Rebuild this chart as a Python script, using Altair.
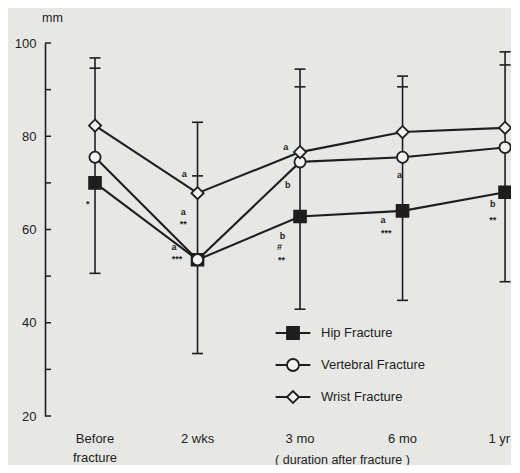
import altair as alt
import pandas as pd

# ---------------- data ----------------
times = ["Before\nfracture", "2 wks", "3 mo", "6 mo", "1 yr"]
time_pos = [0, 1, 2, 3, 4]
series_names = ["Hip Fracture", "Vertebral Fracture", "Wrist Fracture"]
hip = [70.0, 53.5, 62.8, 64.0, 68.0]
vertebral = [75.5, 53.5, 74.5, 75.5, 77.6]
wrist = [82.3, 67.8, 76.6, 80.9, 81.8]

err_top_outer = [96.8, 83.0, 94.4, 92.9, 98.1]
err_top_inner = [94.6, 71.5, 90.6, 90.6, 95.3]
err_bottom = [50.6, 33.4, 42.9, 44.8, 48.8]

note_x = [-0.07, 0.87, 0.86, 0.86, 0.77, 0.80, 1.86, 1.88, 1.83, 1.80, 1.82, 2.97, 2.81, 2.84, 3.88, 3.88]
note_y = [65.5, 72.0, 63.7, 61.2, 56.3, 53.6, 77.7, 69.6, 58.6, 56.2, 53.5, 71.7, 62.0, 59.2, 65.5, 62.0]
note_text = ["*", "a", "a", "**", "a", "***", "a", "b", "b", "#", "**", "a", "a", "***", "b", "**"]

y_ticks = [20, 30, 40, 50, 60, 70, 80, 90, 100]
y_labels = [20, 40, 60, 80, 100]

# ---------------- styling ----------------
INK = "#1e1e1e"
BG = "#e7e7e5"
MARK_FILL = "#f2f2f0"
FONT = "Liberation Sans"
W, H = 466, 373

long_df = pd.DataFrame({
    "series": [s for s in series_names for _ in time_pos],
    "t": time_pos * 3,
    "v": hip + vertebral + wrist,
})
err_df = pd.DataFrame({"t": time_pos, "top": err_top_outer, "inner": err_top_inner, "bottom": err_bottom})
note_df = pd.DataFrame({"x": note_x, "y": note_y, "text": note_text})
tick_df = pd.DataFrame({"v": y_ticks})
xlab_df = pd.DataFrame({"t": time_pos, "label": times})

xscale = alt.Scale(domain=[-0.488, 4.058], nice=False, zero=False)
yscale = alt.Scale(domain=[20, 100], nice=False, zero=False)

x_axis = alt.Axis(values=time_pos, labels=False, domain=False, ticks=False, grid=False,
                  title="( duration after  fracture )", titleX=297, titleY=43,
                  titleBaseline="middle", titleFontSize=12.5, titleFontWeight="normal",
                  titleColor=INK, titleFont=FONT)
y_axis = alt.Axis(values=y_labels, ticks=False, grid=False, domain=True, domainColor=INK,
                  domainWidth=1.6, labelPadding=9, labelFontSize=13, labelColor=INK, labelFont=FONT,
                  title="mm", titleAngle=0, titleX=7, titleY=-26, titleAlign="center",
                  titleBaseline="middle", titleFontSize=12.5, titleFontWeight="normal",
                  titleColor=INK, titleFont=FONT)

X = alt.X("t:Q", scale=xscale, axis=x_axis)
Y = alt.Y("v:Q", scale=yscale, axis=y_axis)

# minor/major ticks pointing inward
ticks = alt.Chart(tick_df).mark_rule(color=INK, strokeWidth=1.5).encode(
    y=alt.Y("v:Q", scale=yscale, axis=y_axis), x=alt.value(0), x2=alt.value(6))

# category labels under the plot, placed by the x scale
xlab_common = dict(baseline="top", lineBreak="\n", lineHeight=19, fontSize=13, font=FONT, color=INK)
xlabels_mid = alt.Chart(xlab_df).transform_filter(alt.datum.t < 4).mark_text(
    align="center", **xlab_common).encode(
    x=alt.X("t:Q", scale=xscale, axis=x_axis), y=alt.value(H + 17), text="label:N")
xlabels_end = alt.Chart(xlab_df).transform_filter(alt.datum.t >= 4).mark_text(
    align="right", dx=5, **xlab_common).encode(
    x=alt.X("t:Q", scale=xscale, axis=x_axis), y=alt.value(H + 17), text="label:N")

# error bars
err_rule = alt.Chart(err_df).mark_rule(color=INK, strokeWidth=1.6).encode(
    x=alt.X("t:Q", scale=xscale, axis=x_axis),
    y=alt.Y("bottom:Q", scale=yscale, axis=y_axis), y2="top:Q")
err_caps = alt.Chart(err_df).transform_fold(["top", "inner", "bottom"], as_=["k", "cap"]).mark_tick(
    orient="horizontal", size=11, thickness=1.6, color=INK, opacity=1).encode(
    x=alt.X("t:Q", scale=xscale, axis=x_axis),
    y=alt.Y("cap:Q", scale=yscale, axis=y_axis))

lines = alt.Chart(long_df).mark_line(color=INK, strokeWidth=2.1).encode(x=X, y=Y, detail="series:N")

shape_props = {
    "Hip Fracture": dict(shape="square", size=140, fill=INK),
    "Vertebral Fracture": dict(shape="circle", size=125, fill=MARK_FILL),
    "Wrist Fracture": dict(shape="diamond", size=150, fill=MARK_FILL),
}
marker_layers = []
for s in series_names:
    p = shape_props[s]
    marker_layers.append(
        alt.Chart(long_df).transform_filter(alt.datum.series == s).mark_point(
            shape=p["shape"], size=p["size"], filled=True, fill=p["fill"], stroke=INK,
            strokeWidth=1.8, opacity=1).encode(x=X, y=Y))

# legend (drawn by the library's legend from an empty layer)
legend_paths = [
    "M-2.9,0H2.9M-1,-1H1V1H-1Z",
    "M-2.9,0H-1M1,0H2.9M-1,0A1,1 0 1,1 1,0A1,1 0 1,1 -1,0Z",
    "M-2.9,0H-1M1,0H2.9M-1,0L0,-1L1,0L0,1Z",
]
leg = dict(title=None, orient="none", legendX=241, legendY=283, labelFontSize=13,
           labelFont=FONT, labelColor=INK, symbolSize=144, symbolStrokeWidth=1.8,
           labelOffset=21, rowPadding=12, padding=0, symbolOpacity=1)
legend_layer = alt.Chart(long_df).transform_filter("false").mark_point(
    filled=True, strokeWidth=1.8, opacity=1).encode(
    x=X, y=Y,
    shape=alt.Shape("series:N", scale=alt.Scale(domain=series_names, range=legend_paths),
                    legend=alt.Legend(**leg)),
    fill=alt.Fill("series:N", scale=alt.Scale(domain=series_names, range=[INK, MARK_FILL, MARK_FILL]),
                  legend=alt.Legend(**leg)),
    stroke=alt.Stroke("series:N", scale=alt.Scale(domain=series_names, range=[INK, INK, INK]),
                      legend=alt.Legend(**leg)),
)

notes = alt.Chart(note_df).mark_text(fontSize=9, font=FONT, color=INK, baseline="middle",
                                      align="center", fontWeight="bold").encode(
    x=alt.X("x:Q", scale=xscale, axis=x_axis),
    y=alt.Y("y:Q", scale=yscale, axis=y_axis), text="text:N")

chart = alt.layer(ticks, err_rule, err_caps, lines, *marker_layers, notes, xlabels_mid, xlabels_end,
                  legend_layer).properties(
    width=W, height=H,
    padding={"left": 37, "top": 35, "right": 0, "bottom": 49},
    autosize=alt.AutoSizeParams(type="none"),
    background=BG,
).configure_view(stroke=None)

chart.save("out.html", embed_options={"renderer": "svg", "actions": False})
